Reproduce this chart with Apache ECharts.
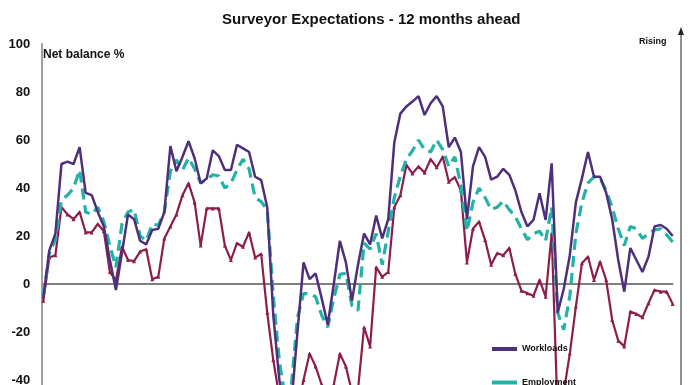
<!DOCTYPE html>
<html>
<head>
<meta charset="utf-8">
<script src="https://cdn.jsdelivr.net/npm/echarts@6/dist/echarts.min.js"></script>
<style>
html,body{margin:0;padding:0;background:#fff;}
#chart{width:696px;height:385px;}
</style>
</head>
<body>
<div id="chart"></div>
<script>
// Quarterly, 1999 Q1 – 2025 Q1
var categories = [];
for (var y = 1999; y <= 2025; y++) {
  for (var q = 1; q <= 4; q++) {
    if (y === 2025 && q > 1) break;
    categories.push('Q' + q + ' ' + y);
  }
}

var workloads = [
  -6, 14, 21, 50, 51, 50, 57, 38, 37, 30,
  24, 10, -2.5, 13, 29, 27, 18, 16.5, 22.5, 23,
  30, 57.5, 47, 53, 59.5, 52.4, 42, 44, 55.7, 53.3,
  47.5, 47.5, 58, 56.5, 55, 44.7, 43.3, 32, -13, -40,
  -52, -50, -20, 9, 2, 4.4, -6, -17, 0, 18,
  9, -7, 8, 21, 16.5, 28.5, 19, 27, 59, 71,
  74, 76, 78.3, 70.4, 75.3, 78.3, 74, 57, 61, 55,
  27, 49, 57, 53, 43.5, 44.7, 48, 45.5, 39, 30,
  24, 26.7, 37.8, 26.7, 50.3, -12, -2, 12, 34, 44,
  55, 44.7, 44.7, 38, 27, 10, -3.2, 15, 10, 5,
  11.4, 24, 24.6, 23, 20
];

var employment = [
  -5, 12.8, 18.5, 35, 37, 40, 47.5, 30, 29, 32,
  26, 16, 7, 25, 30, 31, 20, 18, 25, 24.5,
  30, 47, 51.7, 47.5, 52.5, 48, 42, 43.5, 45.5, 45,
  40, 42, 47.5, 52, 48, 36, 34.3, 31, -5, -32,
  -48, -42, -14, -4, -4, -5.3, -13, -18, -6, 4,
  4.5, -9, -11, 17, 14.5, 21, 8, 22, 36, 45,
  52, 55.5, 60, 56, 55, 60, 56, 49, 53, 41,
  22, 34, 40, 36, 31, 32, 34.5, 31, 28, 23,
  18.5, 21, 22, 18, 32, -12, -19, -5, 21, 34,
  42, 44.7, 44, 39, 32, 23, 16, 24, 23, 19,
  21, 22.5, 23, 20.5, 17.5
];

var profitMargins = [
  -7, 11, 12, 32, 29, 27, 30, 21.5, 21.5, 25,
  22, 5, 1.5, 15.5, 10, 9.5, 13.5, 14.5, 2, 3,
  19, 24, 29, 37, 42, 34, 16, 31.5, 31.5, 31.5,
  16, 10, 17, 15.5, 21.5, 11, 12.5, -12, -31.7, -47,
  -55, -58, -52, -40, -29, -34.4, -42, -47, -42, -29,
  -34.4, -45, -44, -18, -26, 7, 3, 5, 32, 37,
  49.6, 46, 49, 46.4, 52, 48.6, 53, 42.6, 44.5, 39,
  9, 23, 26, 18.3, 8, 12.8, 12, 15, 4.2, -2.8,
  -3.9, -4.9, 1.7, -5.3, 21, -55, -45, -29, -9.4, 8.6,
  11.4, 1.7, 9.3, 1.7, -15, -23.6, -26, -11.5, -12.5, -13.9,
  -8, -2.5, -3.2, -3.2, -8.3
];

var yTicks = { min: -100, max: 100, interval: 20 };

var chart = echarts.init(document.getElementById('chart'), null, { renderer: 'canvas' });
var FONT = 'Liberation Sans, Arial, sans-serif';
var legendText = { fontFamily: FONT, fontSize: 9, fontWeight: 'bold', color: '#111' };

chart.setOption({
  animation: false,
  backgroundColor: '#ffffff',
  title: {
    text: 'Surveyor Expectations - 12 months ahead',
    left: 217, top: 7,
    textStyle: { fontFamily: FONT, fontSize: 15, fontWeight: 'bold', color: '#111' }
  },
  grid: { left: 43.3, top: 44, width: 629.4, height: 480, containLabel: false, outerBoundsMode: 'none' },
  legend: {
    orient: 'vertical', left: 492, top: 344.5, height: 90, padding: 0,
    itemWidth: 25, itemHeight: 4, itemGap: 24.5, textStyle: legendText,
    data: [{ name: 'Workloads', icon: 'rect' }, { name: 'Employment', icon: 'rect' }]
  },
  xAxis: {
    type: 'category',
    data: categories,
    boundaryGap: false,
    axisLine: { show: true, onZero: true, lineStyle: { color: '#555', width: 1.5 } },
    axisTick: { show: false },
    axisLabel: { show: false },
    splitLine: { show: false }
  },
  yAxis: {
    type: 'value',
    min: yTicks.min, max: yTicks.max, interval: yTicks.interval,
    offset: 2,
    axisLine: { show: true, lineStyle: { color: '#a0a0a0', width: 2 } },
    axisTick: { show: false },
    splitLine: { show: false },
    axisLabel: { margin: 11, fontFamily: FONT, fontSize: 13, fontWeight: 'bold', color: '#111' }
  },
  graphic: [
    { type: 'text', left: 43, top: 49,
      style: { text: 'Net balance %', font: 'bold 12px Liberation Sans, Arial, sans-serif', fill: '#111' } },
    { type: 'text', left: 639, top: 37,
      style: { text: 'Rising', font: 'bold 9px Liberation Sans, Arial, sans-serif', fill: '#111' } },
    { type: 'line', shape: { x1: 681, y1: 31, x2: 681, y2: 390 },
      style: { stroke: '#222', lineWidth: 1 } },
    { type: 'polygon', shape: { points: [[681, 27], [678, 35], [684, 35]] },
      style: { fill: '#222' } }
  ],
  series: [
    {
      name: 'Workloads', type: 'line', data: workloads,
      symbol: 'none', smooth: false,
      lineStyle: { color: '#4e2f7b', width: 2.5 },
      itemStyle: { color: '#4e2f7b' }, z: 3
    },
    {
      name: 'Employment', type: 'line', data: employment,
      symbol: 'none',
      lineStyle: { color: '#22b2a6', width: 3.2, type: [11, 6] },
      itemStyle: { color: '#22b2a6' }, z: 2
    },
    {
      name: 'Profit margins', type: 'line', data: profitMargins,
      symbol: 'triangle', symbolSize: 4, showSymbol: true, showAllSymbol: true,
      lineStyle: { color: '#8c1d4c', width: 2.2 },
      itemStyle: { color: '#8c1d4c' }, z: 1
    }
  ]
});
</script>
</body>
</html>
